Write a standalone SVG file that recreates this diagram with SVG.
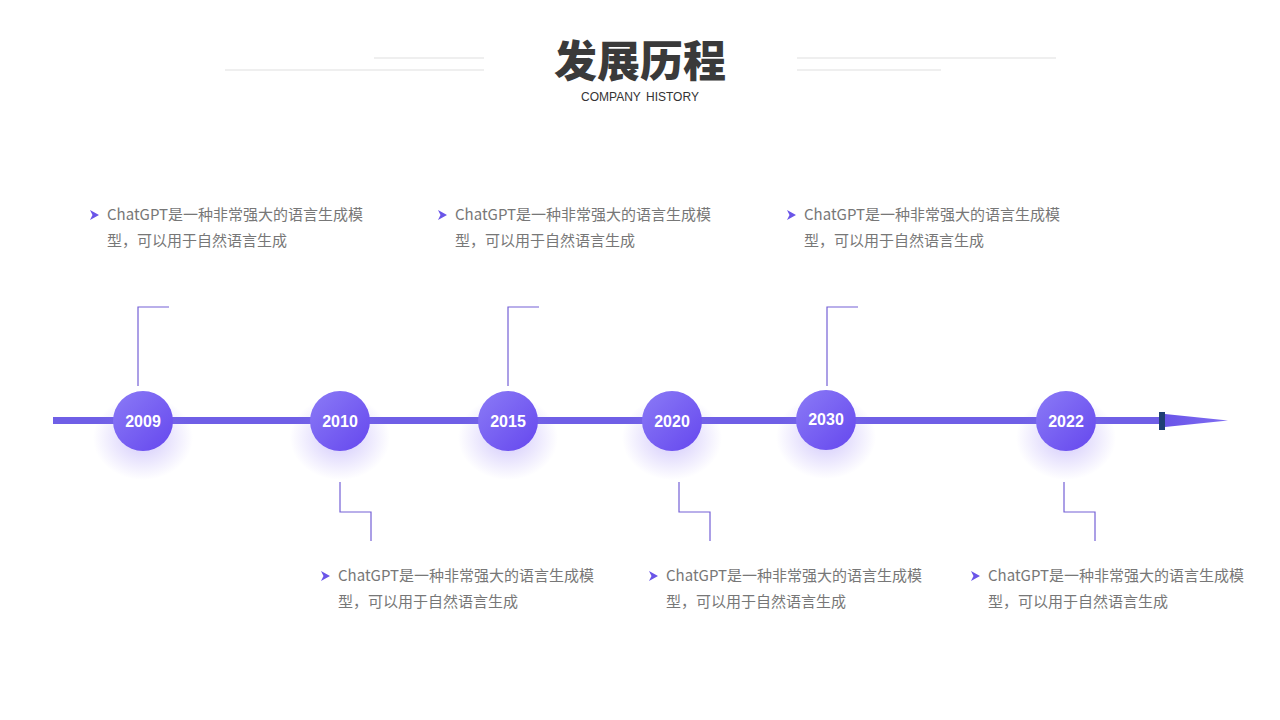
<svg xmlns="http://www.w3.org/2000/svg" width="1280" height="720" viewBox="0 0 1280 720">
<defs>
<linearGradient id="cg" x1="0" y1="0" x2="1" y2="1">
<stop offset="0" stop-color="#8b7bf6"/>
<stop offset="1" stop-color="#6547ee"/>
</linearGradient>
<radialGradient id="glow" cx="0.5" cy="0.5" r="0.5">
<stop offset="0" stop-color="#8a72f5" stop-opacity="0.4"/>
<stop offset="1" stop-color="#8a72f5" stop-opacity="0"/>
</radialGradient>
<linearGradient id="tg" x1="0" y1="0" x2="1" y2="0">
<stop offset="0" stop-color="#6a55e8"/>
<stop offset="1" stop-color="#7f6df2"/>
</linearGradient>
<g id="bul"><polygon points="0,-5 9,0 0,5 2.5,0" fill="#6a55e8"/></g>
</defs>
<style>
.deco{stroke:#e0e0e0;stroke-width:1.2;fill:none}
.title{font-family:"Noto Sans CJK SC","Liberation Sans",sans-serif;font-weight:900;font-size:43px;fill:#3a3a3a}
.sub{font-family:"Liberation Sans",Arial,sans-serif;font-size:12px;fill:#333;word-spacing:2px}
.yr{font-family:"Liberation Sans",Arial,sans-serif;font-weight:700;font-size:16px;fill:#fff}
.desc{font-family:"Noto Sans CJK SC","Liberation Sans",sans-serif;font-size:15px;fill:#777}
.conn{stroke:#7460d6;stroke-width:1.2;fill:none}
</style>
<rect width="1280" height="720" fill="#fff"/>
<g id="header">
<line class="deco" x1="374" y1="58" x2="484" y2="58"/>
<line class="deco" x1="225" y1="70" x2="484" y2="70"/>
<line class="deco" x1="797" y1="58" x2="1056" y2="58"/>
<line class="deco" x1="797" y1="70" x2="941" y2="70"/>
<text class="title" x="640" y="77" text-anchor="middle">发展历程</text>
<text class="sub" x="640" y="101" text-anchor="middle">COMPANY HISTORY</text>
</g>
<g id="axis">
<rect x="53" y="417" width="1108" height="7" fill="#6f5fe6"/>
<polygon points="1165,414 1228,420.5 1165,427" fill="url(#tg)"/>
<rect x="1159" y="412" width="6" height="18" fill="#1f3f73"/>
</g>
<g id="connectors">
<polyline class="conn" points="138,386 138,307 169,307"/>
<polyline class="conn" points="508,386 508,307 539,307"/>
<polyline class="conn" points="827,386 827,307 858,307"/>
<polyline class="conn" points="340,482 340,512 371,512 371,541"/>
<polyline class="conn" points="679,482 679,512 710,512 710,541"/>
<polyline class="conn" points="1064,482 1064,512 1095,512 1095,541"/>
</g>
<g id="node-2009">
<ellipse cx="143" cy="438" rx="50" ry="42" fill="url(#glow)"/>
<circle cx="143" cy="421" r="30" fill="url(#cg)"/>
<text class="yr" x="143" y="427" text-anchor="middle">2009</text>
</g>
<g id="node-2010">
<ellipse cx="340" cy="438" rx="50" ry="42" fill="url(#glow)"/>
<circle cx="340" cy="421" r="30" fill="url(#cg)"/>
<text class="yr" x="340" y="427" text-anchor="middle">2010</text>
</g>
<g id="node-2015">
<ellipse cx="508" cy="438" rx="50" ry="42" fill="url(#glow)"/>
<circle cx="508" cy="421" r="30" fill="url(#cg)"/>
<text class="yr" x="508" y="427" text-anchor="middle">2015</text>
</g>
<g id="node-2020">
<ellipse cx="672" cy="438" rx="50" ry="42" fill="url(#glow)"/>
<circle cx="672" cy="421" r="30" fill="url(#cg)"/>
<text class="yr" x="672" y="427" text-anchor="middle">2020</text>
</g>
<g id="node-2030">
<ellipse cx="826" cy="437" rx="50" ry="42" fill="url(#glow)"/>
<circle cx="826" cy="420" r="30" fill="url(#cg)"/>
<text class="yr" x="826" y="425" text-anchor="middle">2030</text>
</g>
<g id="node-2022">
<ellipse cx="1066" cy="438" rx="50" ry="42" fill="url(#glow)"/>
<circle cx="1066" cy="421" r="30" fill="url(#cg)"/>
<text class="yr" x="1066" y="427" text-anchor="middle">2022</text>
</g>
<g id="desc-2009">
<use href="#bul" x="90" y="215"/>
<text class="desc" x="107" y="220">ChatGPT是一种非常强大的语言生成模</text>
<text class="desc" x="107" y="246">型，可以用于自然语言生成</text>
</g>
<g id="desc-2015">
<use href="#bul" x="438" y="215"/>
<text class="desc" x="455" y="220">ChatGPT是一种非常强大的语言生成模</text>
<text class="desc" x="455" y="246">型，可以用于自然语言生成</text>
</g>
<g id="desc-2030">
<use href="#bul" x="787" y="215"/>
<text class="desc" x="804" y="220">ChatGPT是一种非常强大的语言生成模</text>
<text class="desc" x="804" y="246">型，可以用于自然语言生成</text>
</g>
<g id="desc-2010">
<use href="#bul" x="321" y="576"/>
<text class="desc" x="338" y="581">ChatGPT是一种非常强大的语言生成模</text>
<text class="desc" x="338" y="607">型，可以用于自然语言生成</text>
</g>
<g id="desc-2020">
<use href="#bul" x="649" y="576"/>
<text class="desc" x="666" y="581">ChatGPT是一种非常强大的语言生成模</text>
<text class="desc" x="666" y="607">型，可以用于自然语言生成</text>
</g>
<g id="desc-2022">
<use href="#bul" x="971" y="576"/>
<text class="desc" x="988" y="581">ChatGPT是一种非常强大的语言生成模</text>
<text class="desc" x="988" y="607">型，可以用于自然语言生成</text>
</g>
</svg>
